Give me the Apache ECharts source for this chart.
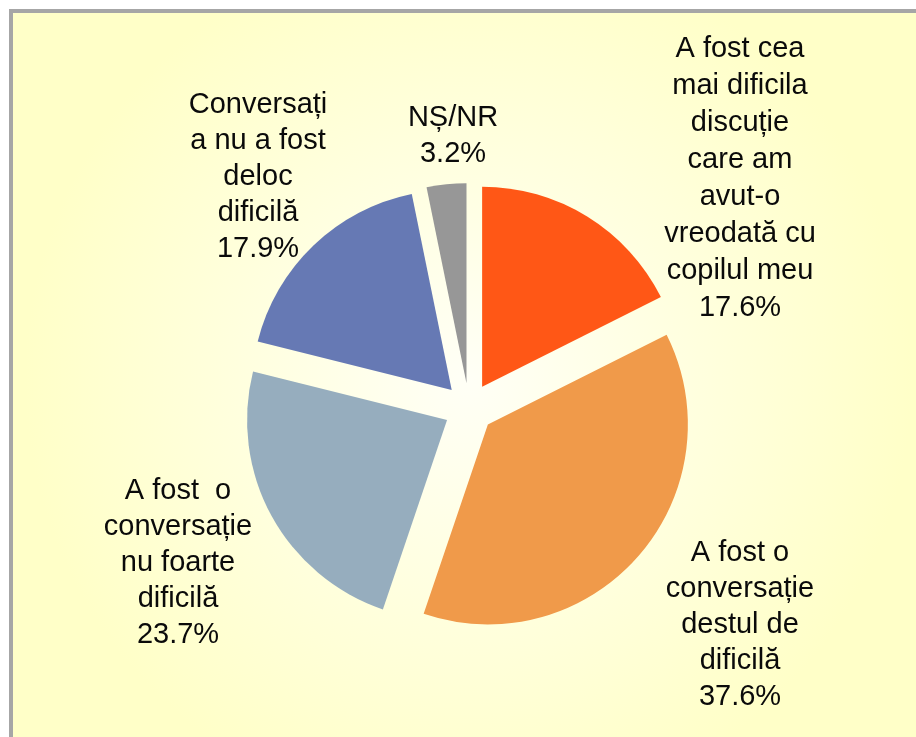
<!DOCTYPE html>
<html>
<head>
<meta charset="utf-8">
<script src="https://cdn.jsdelivr.net/npm/echarts@6/dist/echarts.min.js"></script>
<style>html,body{margin:0;padding:0;background:#fff;}#c{width:916px;height:737px;}</style>
</head>
<body>
<div id="c"></div>
<script>
var categories = [
  "A fost cea\nmai dificila\ndiscuție\ncare am\navut-o\nvreodată cu\ncopilul meu",
  "A fost o\nconversație\ndestul de\ndificilă",
  "A fost  o\nconversație\nnu foarte\ndificilă",
  "Conversați\na nu a fost\ndeloc\ndificilă",
  "NȘ/NR"
];
var values = [17.6, 37.6, 23.7, 17.9, 3.2];
var colors = ["#FF5716", "#F09A4A", "#96ADBE", "#6679B4", "#979797"];

var labelPos = [[740, 178], [740, 625], [178, 563], [258, 177], [453, 136]];
var labelLineHeight = [37, 36, 36, 36, 36];

var data = values.map(function (v, i) {
  return {
    name: categories[i],
    value: v,
    selected: true,
    itemStyle: { color: colors[i] },
    select: { itemStyle: { color: colors[i] } }
  };
});

var labelTexts = values.map(function (v, i) {
  return {
    type: 'text',
    z: 10,
    silent: true,
    style: {
      text: categories[i] + '\n' + v.toFixed(1) + '%',
      x: labelPos[i][0],
      y: labelPos[i][1],
      align: 'center',
      verticalAlign: 'middle',
      font: '29px "Liberation Sans", Arial, sans-serif',
      lineHeight: labelLineHeight[i],
      fill: '#0a0a0a'
    }
  };
});

var chart = echarts.init(document.getElementById('c'), null, { renderer: 'canvas' });
chart.setOption({
  animation: false,
  backgroundColor: '#ffffff',
  graphic: [{
    type: 'rect',
    z: -10,
    silent: true,
    shape: { x: 11, y: 11, width: 915, height: 736 },
    style: {
      fill: new echarts.graphic.RadialGradient(0.5, 0.5, 0.6, [
        { offset: 0, color: '#FFFFF6' },
        { offset: 1, color: '#FFFFC8' }
      ]),
      stroke: '#A6A6A6',
      lineWidth: 4
    }
  }].concat(labelTexts),
  series: [{
    type: 'pie',
    center: [469, 408],
    radius: [0, 200],
    startAngle: 90,
    clockwise: true,
    selectedMode: 'multiple',
    selectedOffset: 25,
    emphasis: { disabled: true },
    labelLine: { show: false },
    label: { show: false },
    data: data
  }]
});
</script>
</body>
</html>
